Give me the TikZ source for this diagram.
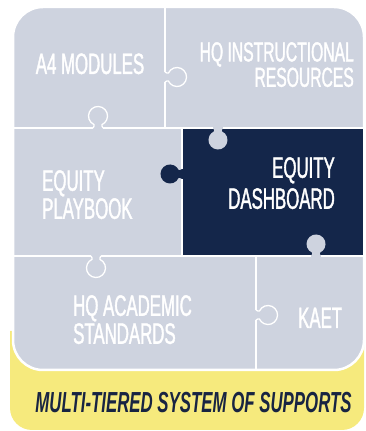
\documentclass[tikz,border=0pt]{standalone}
\usepackage{fontspec}
\newfontfamily\narrowsans[FakeStretch=0.58]{Liberation Sans}
\newfontfamily\piecesans[FakeStretch=0.57,FakeBold=1.3]{Liberation Sans}
\definecolor{piecegray}{RGB}{206,211,223}
\definecolor{piecenavy}{RGB}{20,38,74}
\definecolor{mtssyellow}{RGB}{246,234,125}
\definecolor{mtssnavy}{RGB}{24,36,66}
\tikzset{
	pics/knob/.style={code={
		\fill[#1] (-5,-1.2) rectangle (5,0.5);
		\path[fill=#1,pic actions] (-5,0) to[out=80,in=-25] (-4,3.4) arc[start angle=245,end angle=-65,radius=9.5] to[out=205,in=100] (5,0);
	}}
}

\begin{document}
\begin{tikzpicture}[x=1pt,y=1pt,
		divider/.style={white, line width=1.3pt},
		piecelabel/.style={text=white, inner sep=0pt, font=\piecesans\fontsize{29.5}{29.5}\selectfont}]
	\useasboundingbox (0,0) rectangle (366,431);
	\fill[mtssyellow, rounded corners=22pt] (10,100) -- (10,1) -- (364,1) -- (364,100);
	\draw[fill=piecegray, draw=white, line width=2.5pt, rounded corners=30pt] (13,61) rectangle (364,424);
	\draw[fill=piecenavy, draw=white, line width=1.3pt] (182,175) rectangle (364,303);
	\draw[divider] (165,424) -- (165,303);
	\draw[divider] (13,303) -- (182,303);
	\draw[divider] (13,175) -- (182,175);
	\draw[divider] (256,175) -- (256,61);
	\pic[draw=white, line width=1.3pt, rotate=-90] at (165,354) {knob=piecegray};
	\pic[draw=white, line width=1.3pt] at (98,303) {knob=piecegray};
	\pic[rotate=180] at (218,303) {knob=piecegray};
	\pic[rotate=90] at (182,257) {knob=piecenavy};
	\pic[draw=white, line width=1.3pt, rotate=180] at (96,175) {knob=piecegray};
	\pic at (316,175) {knob=piecegray};
	\pic[draw=white, line width=1.3pt, rotate=-90] at (256,116) {knob=piecegray};
	\node[piecelabel, anchor=base] (modules) at (90,357) {A4 MODULES};
	\node[piecelabel, anchor=north east, align=right, font=\piecesans\fontsize{27.5}{23.5}\selectfont] (resources) at (354,389) {HQ INSTRUCTIONAL\\RESOURCES};
	\node[piecelabel, anchor=north east, align=right, font=\piecesans\fontsize{29.5}{31}\selectfont] (dashboard) at (335,274) {EQUITY\\DASHBOARD};
	\node[piecelabel, anchor=north west, align=left, font=\piecesans\fontsize{29.5}{28}\selectfont] (playbook) at (42,261) {EQUITY\\PLAYBOOK};
	\node[piecelabel, anchor=north west, align=left, font=\piecesans\fontsize{29.5}{28}\selectfont] (standards) at (73,136) {HQ ACADEMIC\\STANDARDS};
	\node[piecelabel, anchor=base west] (kaet) at (298,103) {KAET};
	\node[text=mtssnavy, inner sep=0pt, anchor=base, font=\narrowsans\bfseries\itshape\fontsize{29}{29}\selectfont] (mtss) at (193.5,19) {MULTI-TIERED SYSTEM OF SUPPORTS};
\end{tikzpicture}
\end{document}
